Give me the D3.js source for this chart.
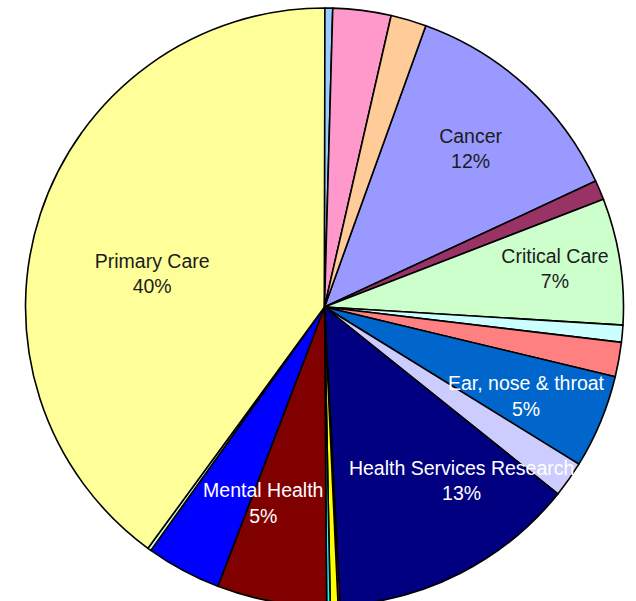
<!DOCTYPE html>
<html>
<head>
<meta charset="utf-8">
<script src="https://cdn.jsdelivr.net/npm/d3@7"></script>
<style>
  html, body { margin: 0; padding: 0; background: #fff; }
  svg { display: block; }
</style>
</head>
<body>
<div id="chart"></div>
<script>
// slices clockwise, starting at Cancer (chart is rotated so Cancer starts ~20deg)
const categories = ['Cancer', '', 'Critical Care', '', '', 'Ear, nose & throat', '',
  'Health Services Research', '', '', '', 'Mental Health', '', '', 'Primary Care', '', '', ''];
const values = [12.58, 1.06, 6.83, 0.92, 1.86, 5.06, 1.94,
  13.42, 0.11, 0.42, 0.19, 5.92, 4.06, 0.19, 39.97, 0.42, 3.14, 1.92];
const shownPct = ['12%', '', '7%', '', '', '5%', '',
  '13%', '', '', '', '5%', '', '', '40%', '', '', ''];

const colors = ['#9999FF', '#993366', '#CCFFCC', '#CCFFFF', '#FF8080', '#0066CC', '#CCCCFF',
  '#000080', '#FF00FF', '#FFFF00', '#00FFFF', '#800000', '#0000FF', '#CCFFCC', '#FFFF99',
  '#99CCFF', '#FF99CC', '#FFCC99'];
const whiteText = ['Ear, nose & throat', 'Health Services Research', 'Mental Health'];

// small hand nudges so labels sit where the original put them
const labelNudge = {
  'Cancer': [1, 0],
  'Critical Care': [18, -6],
  'Ear, nose & throat': [3, 6],
  'Health Services Research': [39, -18],
  'Mental Health': [-23, -16],
  'Primary Care': [32, 33]
};

const width = 636, height = 601;
const cx = 324.5, cy = 307, radius = 299;
const firstAngle = 19.8 * Math.PI / 180;

const svg = d3.select('#chart')
  .append('svg')
  .attr('width', width)
  .attr('height', height)
  .append('g')
  .attr('transform', `translate(${cx}, ${cy})`);

const data = categories.map((c, i) => ({ name: c, value: values[i], pct: shownPct[i], color: colors[i] }));

const pie = d3.pie()
  .value((d) => d.value)
  .sort(null)
  .startAngle(firstAngle)
  .endAngle(firstAngle + 2 * Math.PI);

const arcGenerator = d3.arc().innerRadius(0).outerRadius(radius);
const labelArc = d3.arc().innerRadius(215).outerRadius(215);

const arcs = pie(data);

svg.selectAll('path')
  .data(arcs)
  .enter()
  .append('path')
  .attr('d', arcGenerator)
  .style('fill', (d) => d.data.color)
  .style('stroke', '#000')
  .style('stroke-width', 1.6)
  .style('stroke-linejoin', 'round');

const labels = svg.selectAll('g.lbl')
  .data(arcs.filter((d) => d.data.name !== ''))
  .enter()
  .append('g')
  .attr('class', 'lbl')
  .attr('transform', function (d) {
    const c = labelArc.centroid(d);
    const n = labelNudge[d.data.name] || [0, 0];
    return 'translate(' + (c[0] + n[0]) + ',' + (c[1] + n[1]) + ')';
  })
  .attr('font-family', '"Liberation Sans", Arial, sans-serif')
  .attr('font-size', 19.5)
  .attr('text-anchor', 'middle')
  .style('fill', (d) => (whiteText.includes(d.data.name) ? '#fff' : '#1c1c1c'));

labels.append('text')
  .attr('y', -5.5)
  .text((d) => d.data.name);

labels.append('text')
  .attr('y', 20)
  .text((d) => d.data.pct);
</script>
</body>
</html>
